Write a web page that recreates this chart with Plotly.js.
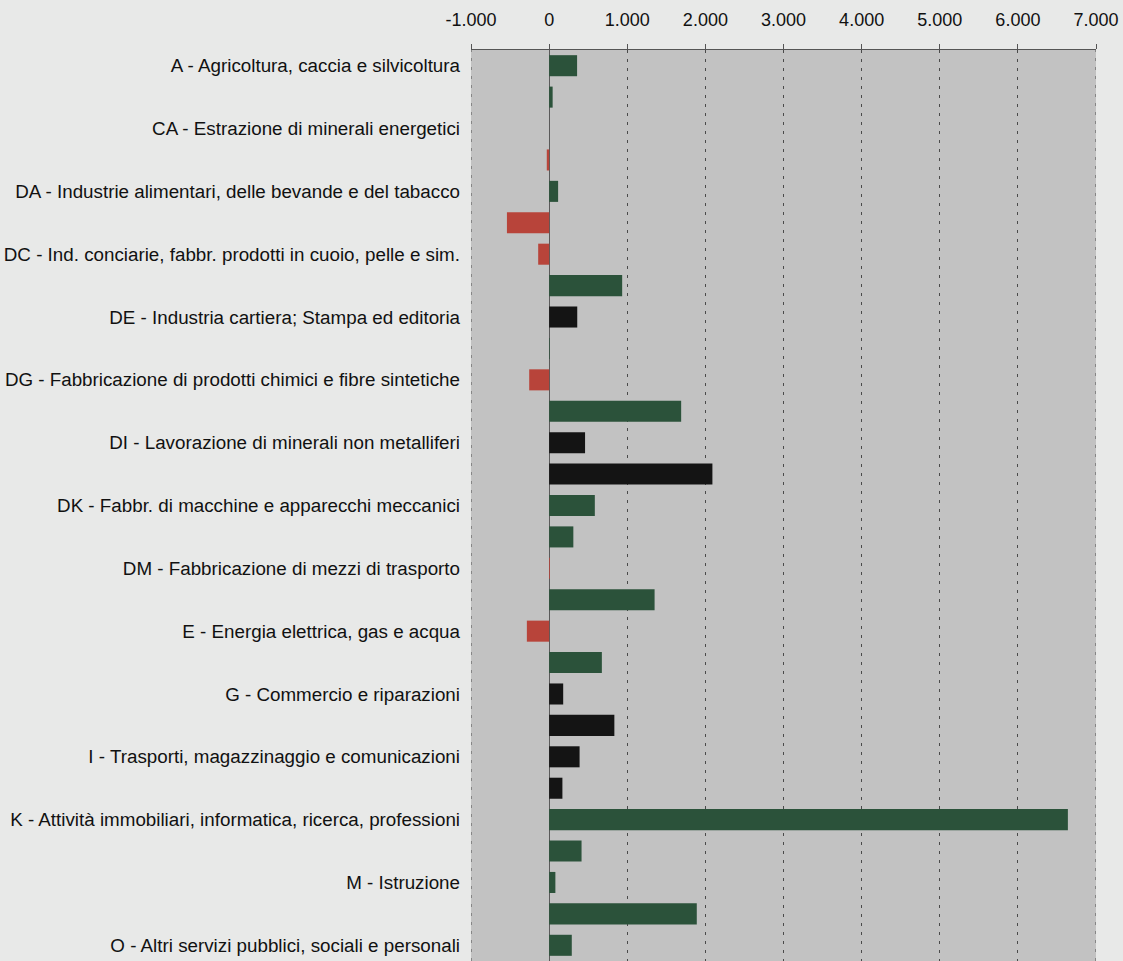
<!DOCTYPE html>
<html>
<head>
<meta charset="utf-8">
<script src="https://cdn.plot.ly/plotly-3.0.1.min.js"></script>
<style>
  html, body { margin: 0; padding: 0; background: #e8e9e8; }
  #chart { width: 1123px; height: 961px; }
</style>
</head>
<body>
<div id="chart"></div>
<script>
// Sector codes (one bar slot each, top to bottom)
const codes = ["A","B","CA","CB","DA","DB","DC","DD","DE","DF","DG","DH","DI","DJ","DK","DL","DM","DN","E","F","G","H","I","J","K","L","M","N","O"];
// Values
const values = [358, 45, 0, -30, 115, -540, -140, 935, 360, 8, -255, 1690, 460, 2090, 585, 310, 10, 1350, -285, 675, 180, 835, 390, 170, 6640, 415, 80, 1890, 290];
// Colour group of each bar: g = green, k = black, r = red
const groups = ["g","g","g","r","g","r","r","g","k","g","r","g","k","k","g","g","r","g","r","g","k","k","k","k","g","g","g","g","g"];
// Labelled sectors (every other one)
const labelCodes = ["A","CA","DA","DC","DE","DG","DI","DK","DM","E","G","I","K","M","O"];
const labelTexts = [
  "A - Agricoltura, caccia e silvicoltura",
  "CA - Estrazione di minerali energetici",
  "DA - Industrie alimentari, delle bevande e del tabacco",
  "DC - Ind. conciarie, fabbr. prodotti in cuoio, pelle e sim.",
  "DE - Industria cartiera; Stampa ed editoria",
  "DG - Fabbricazione di prodotti chimici e fibre sintetiche",
  "DI - Lavorazione di minerali non metalliferi",
  "DK - Fabbr. di macchine e apparecchi meccanici",
  "DM - Fabbricazione di mezzi di trasporto",
  "E - Energia elettrica, gas e acqua",
  "G - Commercio e riparazioni",
  "I - Trasporti, magazzinaggio e comunicazioni",
  "K - Attività immobiliari, informatica, ricerca, professioni",
  "M - Istruzione",
  "O - Altri servizi pubblici, sociali e personali"
];
const xTickVals = [-1000, 0, 1000, 2000, 3000, 4000, 5000, 6000, 7000];
const xTickText = ["-1.000", "0", "1.000", "2.000", "3.000", "4.000", "5.000", "6.000", "7.000"];

const colorMap = { g: "#2b523a", k: "#141414", r: "#b8443a" };

const traces = ["g", "k", "r"].map(key => ({
  type: "bar",
  orientation: "h",
  y: codes,
  x: values.map((v, i) => groups[i] === key ? v : null),
  marker: { color: colorMap[key], line: { width: 0 } },
  hoverinfo: "x+y",
  showlegend: false
}));

const layout = {
  width: 1123,
  height: 961,
  margin: { l: 471, r: 27, t: 50, b: 0, pad: 0 },
  paper_bgcolor: "#e8e9e8",
  plot_bgcolor: "#c2c2c2",
  barmode: "overlay",
  bargap: 0.33,
  font: { family: "Arial", size: 18, color: "#111" },
  xaxis: {
    side: "top",
    range: [-1000, 7000],
    tickvals: xTickVals,
    ticktext: xTickText,
    showgrid: true,
    gridcolor: "#4a4a4a",
    gridwidth: 1,
    griddash: "3px,6px",
    zeroline: true,
    zerolinecolor: "#5a5a5a",
    zerolinewidth: 1,
    showline: true,
    linecolor: "#555",
    linewidth: 1.5,
    ticks: "outside",
    ticklen: 5,
    tickcolor: "#555",
    tickfont: { family: "Arial", size: 18, color: "#111" },
    ticklabelstandoff: 10,
    fixedrange: true
  },
  yaxis: {
    type: "category",
    categoryorder: "array",
    categoryarray: codes,
    autorange: "reversed",
    tickvals: labelCodes,
    ticktext: labelTexts,
    ticks: "",
    showgrid: false,
    showline: false,
    tickfont: { family: "Arial", size: 18.8, color: "#111" },
    ticklabelstandoff: 10,
    fixedrange: true
  },
  shapes: [
    { type: "line", xref: "x", yref: "paper", x0: -1000, x1: -1000, y0: 0, y1: 1,
      line: { color: "#4a4a4a", width: 1, dash: "3px,6px" } },
    { type: "line", xref: "x", yref: "paper", x0: 7000, x1: 7000, y0: 0, y1: 1,
      line: { color: "#4a4a4a", width: 1, dash: "3px,6px" } }
  ]
};

Plotly.newPlot("chart", traces, layout, { displayModeBar: false, staticPlot: true });
</script>
</body>
</html>
